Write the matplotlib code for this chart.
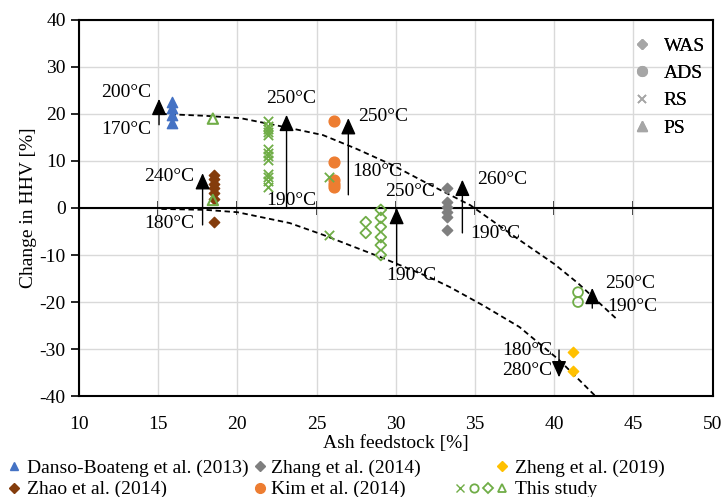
import matplotlib
matplotlib.use("Agg")
import matplotlib.pyplot as plt
from matplotlib.lines import Line2D
from matplotlib.legend_handler import HandlerTuple

plt.rcParams['font.family'] = ['Liberation Serif', 'DejaVu Serif']
plt.rcParams['font.size'] = 14
plt.rcParams['axes.unicode_minus'] = False

# literature data (ash content [%], change in HHV [%])
danso_x = [15.9, 15.9, 15.9, 15.9]
danso_y = [22.6, 21.3, 19.8, 18.1]
zhao_x = [18.5, 18.5, 18.5, 18.5, 18.5, 18.5, 18.5]
zhao_y = [7.0, 6.1, 5.2, 4.2, 3.2, 2.0, -3.0]
zhang_x = [33.2, 33.2, 33.2, 33.2, 33.2, 33.2]
zhang_y = [4.3, 1.2, 0.2, -0.9, -2.0, -4.7]
zheng_x = [41.2, 41.2]
zheng_y = [-30.6, -34.7]
kim_x = [26.1, 26.1, 26.1, 26.1, 26.1]
kim_y = [18.5, 9.8, 6.0, 5.0, 4.5]

# this study
rs_x = [21.9] * 13 + [25.8, 25.8]
rs_y = [18.5, 17.5, 16.8, 16.2, 15.6, 12.5, 11.8, 11.0, 10.2, 7.2, 6.5, 5.7, 4.5, 6.6, -5.7]
ads_x = [41.5, 41.5]
ads_y = [-17.9, -20.0]
was_x = [29.05] * 6 + [28.1, 28.1]
was_y = [-0.4, -2.1, -4.0, -6.2, -7.9, -10.0, -3.0, -5.3]
ps_x = [18.45, 18.45]
ps_y = [19.0, 1.7]

# temperature arrows: x, value at low T, value at high T
arrow_x = [15.05, 17.8, 23.1, 27.0, 30.05, 34.2, 42.4, 40.3]
arrow_from = [17.7, -3.6, 0.0, 2.8, -12.3, -5.3, -21.3, -30.2]
arrow_to = [23.2, 7.4, 19.8, 19.1, 0.0, 6.0, -17.0, -36.0]

# temperature labels
temp_labels = ["200°C", "170°C", "240°C", "180°C", "250°C", "190°C", "250°C", "180°C",
               "250°C", "190°C", "260°C", "190°C", "250°C", "190°C", "180°C", "280°C"]
temp_x = [13.0, 13.0, 15.7, 15.7, 23.4, 23.4, 29.2, 28.8,
          30.9, 31.0, 36.7, 36.3, 44.8, 44.9, 38.3, 38.3]
temp_y = [24.5, 16.6, 6.8, -3.2, 23.2, 1.5, 19.4, 7.7,
          3.6, -14.3, 6.0, -5.5, -16.0, -21.0, -30.2, -34.5]

# trend lines
upper_x = [15.2, 18.0, 20.2, 23.3, 25.4, 27.5, 29.8, 32.0, 34.7, 37.8, 40.0, 41.5, 44.0]
upper_y = [20.0, 19.6, 19.1, 17.0, 15.5, 12.6, 9.1, 5.2, 0.6, -6.8, -11.9, -16.0, -23.8]
lower_x = [15.2, 18.0, 20.0, 23.3, 25.4, 27.0, 29.0, 32.1, 33.4, 35.5, 37.8, 40.3, 42.6]
lower_y = [-0.2, -0.4, -0.9, -3.2, -5.7, -7.8, -10.4, -14.7, -16.8, -20.7, -25.3, -32.3, -40.0]

blue = '#4472C4'
gray = '#7F7F7F'
yellow = '#FFC000'
brown = '#843C0C'
orange = '#ED7D31'
green = '#70AD47'
light = '#A6A6A6'

fig = plt.figure(figsize=(7.25, 4.97), dpi=100)
ax = fig.add_axes([0.109, 0.203, 0.874, 0.757])

ax.set_xlim(10, 50)
ax.set_ylim(-40, 40)
ax.set_xticks(range(10, 51, 5))
ax.set_yticks(range(-40, 41, 10))
ax.grid(True, color='#D9D9D9', lw=1)
ax.set_axisbelow(True)
for s in ax.spines.values():
    s.set_color('black')
    s.set_linewidth(1.5)
ax.tick_params(axis='x', length=0, pad=14, labelsize=14)
ax.tick_params(axis='y', direction='out', length=6, width=1.2, labelsize=14)

ax.axhline(0, color='black', lw=1.5, zorder=2)
sec = ax.secondary_xaxis(0.5)
sec.set_xticks(range(15, 50, 5))
sec.tick_params(direction='inout', length=10, width=1.2, labelbottom=False, labeltop=False)
sec.spines['bottom'].set_visible(False)
sec.spines['top'].set_visible(False)

ax.plot(upper_x, upper_y, ls=(0, (3, 2)), color='black', lw=1.3, zorder=3)
ax.plot(lower_x, lower_y, ls=(0, (3, 2)), color='black', lw=1.3, zorder=3)

ax.scatter(danso_x, danso_y, marker='^', s=55, color=blue, zorder=4)
ax.scatter(zhao_x, zhao_y, marker='D', s=28, color=brown, zorder=4)
ax.scatter(zhang_x, zhang_y, marker='D', s=28, color=gray, zorder=4)
ax.scatter(zheng_x, zheng_y, marker='D', s=28, color=yellow, zorder=4)
ax.scatter(kim_x, kim_y, marker='o', s=60, color=orange, zorder=4)
ax.scatter(rs_x, rs_y, marker='x', s=45, color=green, lw=1.3, zorder=5)
ax.scatter(ads_x, ads_y, marker='o', s=50, facecolor='none', edgecolor=green, lw=1.3, zorder=5)
ax.scatter(was_x, was_y, marker='D', s=30, facecolor='none', edgecolor=green, lw=1.3, zorder=5)
ax.scatter(ps_x, ps_y, marker='^', s=55, facecolor='none', edgecolor=green, lw=1.5, zorder=5)

for x, y0, y1 in zip(arrow_x, arrow_from, arrow_to):
    ax.annotate('', xy=(x, y1), xytext=(x, y0),
                arrowprops=dict(arrowstyle='-|>,head_length=1.0,head_width=0.45',
                                mutation_scale=10, color='black', lw=1.0,
                                shrinkA=0, shrinkB=0), zorder=6)

for t, x, y in zip(temp_labels, temp_x, temp_y):
    ax.text(x, y, t, ha='center', va='center', fontsize=14, zorder=7)

ax.set_xlabel('Ash feedstock [%]', fontsize=14, labelpad=2)
ax.set_ylabel('Change in HHV [%]', fontsize=14, labelpad=2)

# feedstock type legend
type_handles = [
    Line2D([], [], ls='none', marker='D', ms=5, color=light),
    Line2D([], [], ls='none', marker='o', ms=7, color=light),
    Line2D([], [], ls='none', marker='x', ms=6, color=light, mew=1.2),
    Line2D([], [], ls='none', marker='^', ms=7, color=light),
]
leg1 = ax.legend(type_handles, ['WAS', 'ADS', 'RS', 'PS'], loc='upper right',
                 bbox_to_anchor=(1.0, 0.975), frameon=False, handlelength=1.0,
                 handletextpad=0.6, labelspacing=0.5, fontsize=14, borderaxespad=0.0)
ax.add_artist(leg1)

# study legend, one column at a time
blank = Line2D([], [], ls='none')


def mk(marker, color, ms=6, filled=True):
    if filled:
        return Line2D([], [], ls='none', marker=marker, ms=ms, color=color)
    return Line2D([], [], ls='none', marker=marker, ms=ms, mfc='none', mec=color, mew=1.3)


leg_kw = dict(loc='upper left', frameon=False, fontsize=14, borderpad=0, borderaxespad=0,
              labelspacing=0.2)
fig.legend([mk('^', blue), mk('D', brown, 5)],
           ['Danso-Boateng et al. (2013)', 'Zhao et al. (2014)'],
           bbox_to_anchor=(0.0097, 0.076), handlelength=0.7, handletextpad=0.35, **leg_kw)
fig.legend([mk('D', gray, 5), mk('o', orange, 7)],
           ['Zhang et al. (2014)', 'Kim et al. (2014)'],
           bbox_to_anchor=(0.349, 0.076), handlelength=0.7, handletextpad=0.2, **leg_kw)
fig.legend([(blank, blank, blank, mk('D', yellow, 5)),
            (mk('x', green), mk('o', green, 6, False), mk('D', green, 5, False), mk('^', green, 6, False))],
           ['Zheng et al. (2019)', 'This study'],
           bbox_to_anchor=(0.625, 0.076), handlelength=2.9, handletextpad=0.3,
           handler_map={tuple: HandlerTuple(ndivide=None, pad=0.0)}, **leg_kw)

fig.savefig('out.png', dpi=100)
